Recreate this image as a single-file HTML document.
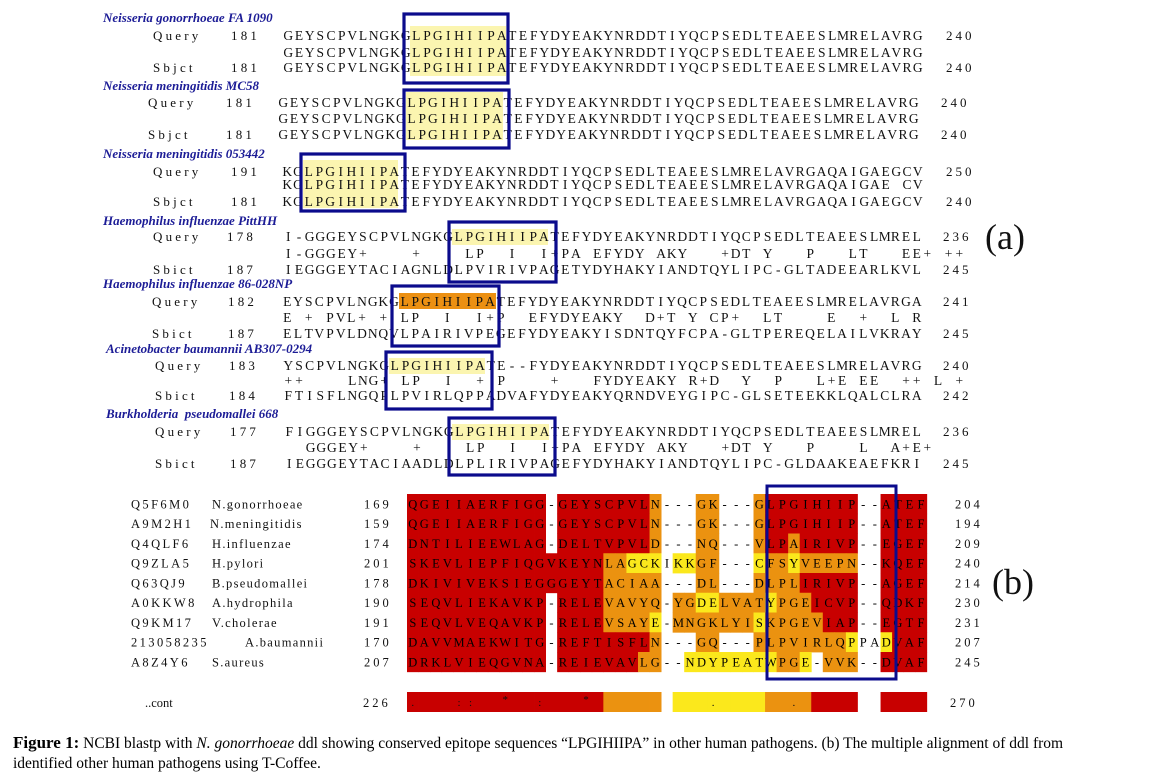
<!DOCTYPE html>
<html><head><meta charset="utf-8">
<style>
html,body{margin:0;padding:0;background:#fff;}
body{width:1160px;height:782px;overflow:hidden;position:relative;}
svg{position:absolute;left:0;top:0;}
text{font-family:"Liberation Serif",serif;white-space:pre;}
.cap{position:absolute;left:13px;font-family:"Liberation Serif",serif;font-size:15.5px;color:#000;white-space:nowrap;}
</style></head>
<body>
<svg id="fig" width="1160" height="782" xml:space="preserve"></svg>
<div class="cap" style="top:733px"><b style="font-size:17px">Figure 1:</b> NCBI blastp with <i>N. gonorrhoeae</i> ddl showing conserved epitope sequences “LPGIHIIPA” in other human pathogens. (b) The multiple alignment of ddl from</div>
<div class="cap" style="top:755px">identified other human pathogens using T-Coffee.</div>
<script>
const NS="http://www.w3.org/2000/svg";
const svg=document.getElementById('fig');
function mk(tag,attrs,parent){const e=document.createElementNS(NS,tag);for(const k in attrs)e.setAttribute(k,attrs[k]);(parent||svg).appendChild(e);return e;}

// ---------- Part (a): BLAST alignments ----------
const blastTitles=["Neisseria gonorrhoeae FA 1090","Neisseria meningitidis MC58","Neisseria meningitidis 053442","Haemophilus influenzae PittHH","Haemophilus influenzae 86-028NP","Acinetobacter baumannii AB307-0294","Burkholderia  pseudomallei 668"];
const blastLabels=[["Query","","Sbjct"],["Query","","Sbjct"],["Query","","Sbjct"],["Query","","Sbict"],["Query","","Sbict"],["Query","","Sbict"],["Query","","Sbict"]];
const blastStart=[["181","181"],["181","181"],["191","181"],["178","187"],["182","187"],["183","184"],["177","187"]];
const blastEnd=[["240","240"],["240","240"],["250","240"],["236","245"],["241","245"],["240","242"],["236","245"]];
const blastSeqs=[
["GEYSCPVLNGKGLPGIHIIPATEFYDYEAKYNRDDTIYQCPSEDLTEAEESLMRELAVRG","GEYSCPVLNGKGLPGIHIIPATEFYDYEAKYNRDDTIYQCPSEDLTEAEESLMRELAVRG","GEYSCPVLNGKGLPGIHIIPATEFYDYEAKYNRDDTIYQCPSEDLTEAEESLMRELAVRG"],
["GEYSCPVLNGKGLPGIHIIPATEFYDYEAKYNRDDTIYQCPSEDLTEAEESLMRELAVRG","GEYSCPVLNGKGLPGIHIIPATEFYDYEAKYNRDDTIYQCPSEDLTEAEESLMRELAVRG","GEYSCPVLNGKGLPGIHIIPATEFYDYEAKYNRDDTIYQCPSEDLTEAEESLMRELAVRG"],
["KGLPGIHIIPATEFYDYEAKYNRDDTIYQCPSEDLTEAEESLMRELAVRGAQAIGAEGCV","KGLPGIHIIPATEFYDYEAKYNRDDTIYQCPSEDLTEAEESLMRELAVRGAQAIGAE CV","KGLPGIHIIPATEFYDYEAKYNRDDTIYQCPSEDLTEAEESLMRELAVRGAQAIGAEGCV"],
["I-GGGEYSCPVLNGKGLPGIHIIPATEFYDYEAKYNRDDTIYQCPSEDLTEAEESLMREL","I-GGGEY+    +    LP  I  I+PA EFYDY AKY   +DT Y   P   LT   EE+ ++ L","IEGGGEYTACIAGNLDLPVIRIVPAGETYDYHAKYIANDTQYLIPC-GLTADEEARLKVL"],
["EYSCPVLNGKGLPGIHIIPATEFYDYEAKYNRDDTIYQCPSEDLTEAEESLMRELAVRGA","E + PVL+ + LP  I  I+P  EFYDYEAKY  D+T Y CP+  LT    E  +  L R","ELTVPVLDNQVLPAIRIVPEGEFYDYEAKYISDNTQYFCPA-GLTPEREQELAILVKRAY"],
["YSCPVLNGKGLPGIHIIPATE--FYDYEAKYNRDDTIYQCPSEDLTEAEESLMRELAVRG","++    LNG+ LP  I  + P    +   FYDYEAKY R+D  Y  P   L+E EE  ++ L +R","FTISFLNGQPLPVIRLQPPADVAFYDYEAKYQRNDVEYGIPC-GLSETEEKKLQALCLRA"],
["FIGGGEYSCPVLNGKGLPGIHIIPATEFYDYEAKYNRDDTIYQCPSEDLTEAEESLMREL","  GGGEY+    +    LP  I  I+PA EFYDY AKY   +DT Y   P    L  A+E+    + +","IEGGGEYTACIAADLDLPLIRIVPAGEFYDYHAKYIANDTQYLIPC-GLDAAKEAEFKRI"]
];
// layout
const bTitleXY=[[103,22],[103,90],[103,158],[103,225],[103,288],[106,353],[106,418]];
const bRowY=[[40,57,72],[107,123,139],[176,189,206],[241,258,274],[306,322,338],[370,385,400],[436,452,468]];
const bLabX=[153,148,153,153,152,155,155];
const bNumX=[231,226,231,227,228,229,230];
const bSeqX=[[283,923],[278,919],[282,923],[283,922],[282,922],[283,922],[284,922]];
const bEndX=[946,941,946,943,943,943,943];
const hiRects=[[410,26,96,50,'#fbf5b0'],[406,92,97,48,'#fbf5b0'],[303,160,95,48,'#fbf5b0'],[452,229,96,16,'#fbf5b0'],[399,293,97,16,'#ec9012'],[389,358,96,16,'#fbf5b0'],[452,424,97,16,'#fbf5b0']];
const boxRects=[[404,14,104,69],[404,90,105,58],[301,154,104,57],[449,222,107,60],[392,286,107,60],[386,352,106,57],[449,418,106,57]];

hiRects.forEach((r,i)=>{const e=mk('rect',{x:r[0],y:r[1],width:r[2],height:r[3],fill:r[4]});

});

blastTitles.forEach((t,b)=>{
  const g=mk('g',{});
  
  
  const tt=mk('text',{x:bTitleXY[b][0],y:bTitleXY[b][1],'font-size':13,'font-style':'italic','font-weight':'bold',fill:'#1c1c96'},g);
  tt.textContent=t;
  
  
  const cw=(bSeqX[b][1]-bSeqX[b][0])/60;
  for(let r=0;r<3;r++){
    const y=bRowY[b][r];
    if(blastLabels[b][r]){
      const l=mk('text',{x:bLabX[b],y:y,'font-size':13,'letter-spacing':'3.2px',fill:'#111'},g);l.textContent=blastLabels[b][r];
      
      
      const n=mk('text',{x:bNumX[b],y:y,'font-size':13,'letter-spacing':'3.2px',fill:'#111'},g);n.textContent=blastStart[b][r===0?0:1];
      
      
      const en=mk('text',{x:bEndX[b],y:y,'font-size':13,'letter-spacing':'3px',fill:'#111'},g);en.textContent=blastEnd[b][r===0?0:1];
      
      
    }
    const s=blastSeqs[b][r];
    const seqG=mk('g',{'font-size':13.5,fill:'#111','text-anchor':'middle'},g);
    
    
    const n=Math.min(s.length,64);
    for(let i=0;i<n;i++){
      if(s[i]===' ')continue;
      const ch=mk('text',{x:(bSeqX[b][0]+(i+0.5)*cw).toFixed(1),y:y},seqG);
      ch.textContent=s[i];
    }
  }
});
boxRects.forEach((r,i)=>{const e=mk('rect',{x:r[0],y:r[1],width:r[2],height:r[3],fill:'none',stroke:'#0b0b8c','stroke-width':3.2});

});
const la=mk('text',{x:985,y:249,'font-size':36,fill:'#111'});la.textContent='(a)';



// ---------- Part (b): T-Coffee multiple alignment ----------
const msaIds=["Q5F6M0","A9M2H1","Q4QLF6","Q9ZLA5","Q63QJ9","A0KKW8","Q9KM17","213058235","A8Z4Y6"];
const msaNames=["N.gonorrhoeae","N.meningitidis","H.influenzae","H.pylori","B.pseudomallei","A.hydrophila","V.cholerae","A.baumannii","S.aureus"];
const msaStart=["169","159","174","201","178","190","191","170","207"];
const msaEnd=["204","194","209","240","214","230","231","207","245"];
const msaSeqs=[
"QGEIIAERFIGG-GEYSCPVLN---GK---GLPGIHIIP--ATEF",
"QGEIIAERFIGG-GEYSCPVLN---GK---GLPGIHIIP--ATEF",
"DNTILIEEWLAG-DELTVPVLD---NQ---VLPAIRIVP--EGEF",
"SKEVLIEPFIQGVKEYNLAGCKIKKGF---CFSYVEEPN--KQEF",
"DKIVIVEKSIEGGGEYTACIAA---DL---DLPLIRIVP--AGEF",
"SEQVLIEKAVKP-RELEVAVYQ-YGDELVATYPGEICVP--QDKF",
"SEQVLVEQAVKP-RELEVSAYE-MNGKLYISKPGEVIAP--EGTF",
"DAVVMAEKWITG-REFTISFLN---GQ---PLPVIRLQPPADVAF",
"DRKLVIEQGVNA-REIEVAVLG--NDYPEATWPGE-VVK--DVAF"];
const msaCons=[
"RRRRRRRRRRRRWRRRRRRRROWWWOOWWWORRRRRRRRWWRRRR",
"RRRRRRRRRRRRWRRRRRRRROWWWOOWWWORRRRRRRRWWRRRR",
"RRRRRRRRRRRRWRRRRRRRROWWWOOWWWORRORRRRRWWRRRR",
"RRRRRRRRRRRRRRRRROOYYYWYYOOWWWYOOYOOOOOWWRRRR",
"RRRRRRRRRRRRRRRRROOOOOWWWOOWWWOOOORRRRRWWRRRR",
"RRRRRRRRRRRRWRRRROOOOOWOOYYOOOOYOOORRRRWWRRRR",
"RRRRRRRRRRRRWRRRROOOOYWOOOOOOOYOOOOORRRWWRRRR",
"RRRRRRRRRRRRWRRRRRRRROWWWOOWWWOOOOOOOOYWWYRRR",
"RRRRRRRRRRRRWRRRRRRROOWWYYYYYYYYOOYWOOOWWRRRR"];
const contCons="RRRRRRRRRRRRRRRRROOOOOWYYYYYYYYOOOORRRRWWRRRR";
const contSym =".   ::  *  :   *          .      .           *";
const colorMap={R:'#c80000',O:'#eb9210',Y:'#fbe81c',W:'none'};
const cx0=407, cwB=11.55, ry0=494, rh=19.75;
function colX(c){return cx0+c*cwB;}
function rowY(r){return ry0+r*rh;}

msaSeqs.forEach((s,r)=>{
  const g=mk('g',{});
  
  
  for(let c=0;c<s.length;c++){
    const col=colorMap[msaCons[r][c]];
    if(col!=='none'){const cell=mk('rect',{x:colX(c).toFixed(2),y:rowY(r).toFixed(2),width:(cwB+0.4).toFixed(2),height:(rh+0.4).toFixed(2),fill:col},g);
      
      }
  }
  const yb=rowY(r)+rh/2+4.5;
  const id=mk('text',{x:131,y:yb,'font-size':12.5,'letter-spacing':'2.4px',fill:'#111'},g);id.textContent=msaIds[r];
  
  
  const nm=mk('text',{x:msaIds[r].length>6?245:(r===1?210:212),y:yb,'font-size':12.5,'letter-spacing':'1.3px',fill:'#111'},g);nm.textContent=msaNames[r];
  
  
  const st=mk('text',{x:364,y:yb,'font-size':12.5,'letter-spacing':'3px',fill:'#111'},g);st.textContent=msaStart[r];
  
  
  const en=mk('text',{x:955,y:yb,'font-size':12.5,'letter-spacing':'3px',fill:'#111'},g);en.textContent=msaEnd[r];
  
  
  const sg=mk('g',{'font-size':12.5,fill:'#000','text-anchor':'middle'},g);
  
  
  for(let c=0;c<s.length;c++){
    const ch=mk('text',{x:(colX(c)+cwB/2).toFixed(1),y:yb},sg);
    ch.textContent=s[c];
  }
});
// consensus row
const cg=mk('g',{});


for(let c=0;c<contCons.length;c++){
  const col=colorMap[contCons[c]];
  if(col!=='none'){const cell=mk('rect',{x:colX(c).toFixed(2),y:692,width:(cwB+0.4).toFixed(2),height:20,fill:col},cg);
    
    }
  if(contSym[c]&&contSym[c]!==' '){const t=mk('text',{x:(colX(c)+cwB/2).toFixed(1),y:contSym[c]==='*'?703:706,'font-size':11,fill:'#111','text-anchor':'middle'},cg);t.textContent=contSym[c];}
}
const ct=mk('text',{x:145,y:707,'font-size':12.5,fill:'#111'},cg);ct.textContent='..cont';
const c1=mk('text',{x:363,y:707,'font-size':12.5,'letter-spacing':'3px',fill:'#111'},cg);c1.textContent='226';
const c2=mk('text',{x:950,y:707,'font-size':12.5,'letter-spacing':'3px',fill:'#111'},cg);c2.textContent='270';
const bb=mk('rect',{x:767,y:486,width:129,height:193,fill:'none',stroke:'#0b0b8c','stroke-width':3});


const lb=mk('text',{x:992,y:594,'font-size':36,fill:'#111'});lb.textContent='(b)';


</script>
</body></html>
